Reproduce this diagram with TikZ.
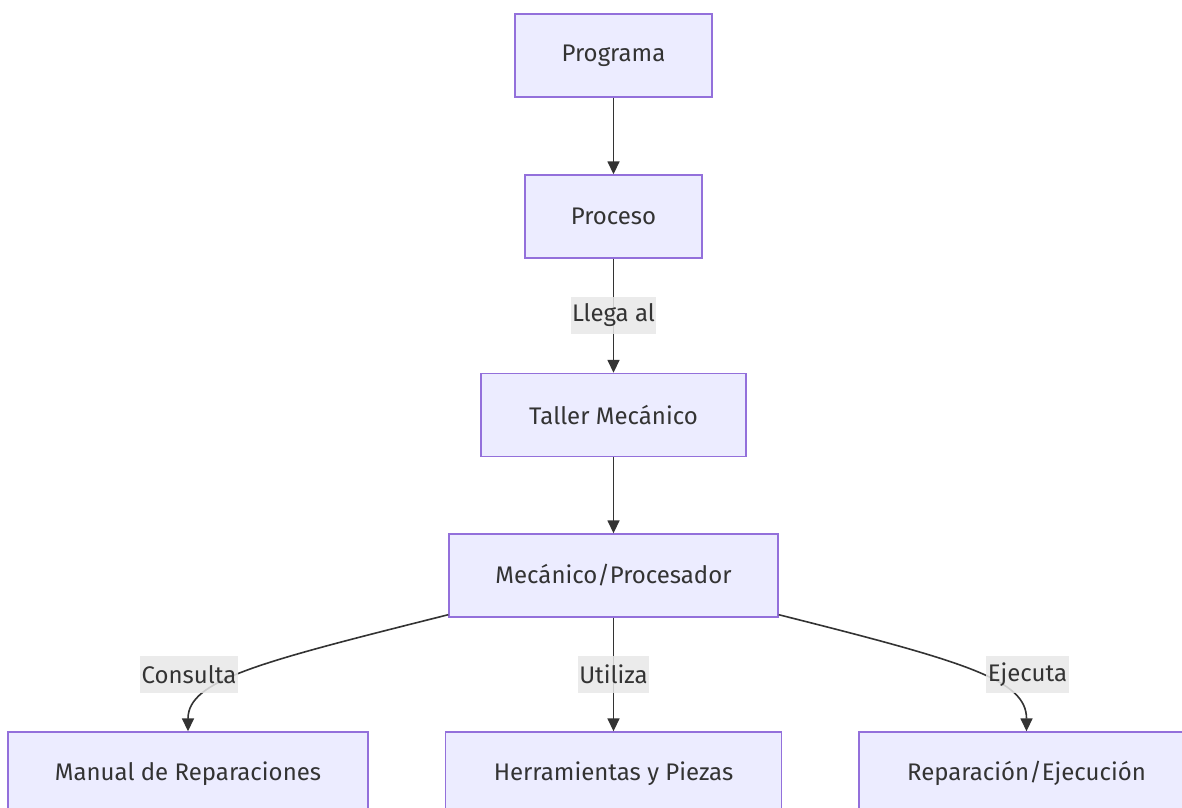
\documentclass[tikz,border=0pt]{standalone}
\usepackage{fontspec}
\setmainfont{Fira Sans}
\usetikzlibrary{arrows.meta}
\definecolor{boxfill}{HTML}{ECECFF}
\definecolor{boxline}{HTML}{9370DB}
\definecolor{ink}{HTML}{333333}
\definecolor{labelbg}{HTML}{E8E8E8}
\begin{document}
\begin{tikzpicture}[x=1pt,y=-1pt,
  font=\fontsize{24}{29}\selectfont,
  box/.style={draw=boxline,fill=boxfill,line width=1.4pt,text=ink,
    minimum height=83pt,inner sep=0pt},
  edge/.style={draw=ink,line width=1.6pt,
    -{Triangle[length=13pt,width=12pt]}},
  elabel/.style={fill=labelbg,fill opacity=0.85,text opacity=1,text=ink,
    inner xsep=1.5pt,inner ysep=0pt,minimum height=37pt}]
  \useasboundingbox (0,0) rectangle (1182,807);

  % nodes
  \node[box,minimum width=197pt] (prog) at (613.5,55.5) {Programa};
  \node[box,minimum width=177pt] (proc) at (613.5,216.5) {Proceso};
  \node[box,minimum width=265pt] (taller) at (613.5,415) {Taller Mecánico};
  \node[box,minimum width=329pt] (mec) at (613.5,575.5) {Mecánico/Procesador};
  \node[box,minimum width=360pt] (manual) at (188,773.5) {Manual de Reparaciones};
  \node[box,minimum width=336pt] (herr) at (613.5,773.5) {Herramientas y Piezas};
  \node[box,minimum width=335pt] (rep) at (1026.5,773.5) {Reparación/Ejecución};

  % straight connectors
  \draw[edge] (prog.south) -- (proc.north);
  \draw[edge] (proc.south) -- (taller.north);
  \draw[edge] (taller.south) -- (mec.north);
  \draw[edge] (mec.south) -- (herr.north);

  % curved connectors to the outer boxes
  \draw[edge] ([yshift=3pt]mec.south west)
    .. controls (260,662) and (188,680) .. (manual.north);
  \draw[edge] ([yshift=3pt]mec.south east)
    .. controls (967,662) and (1026.5,680) .. (rep.north);

  % connector labels
  \node[elabel] (l1) at (613.5,315.5) {Llega al};
  \node[elabel] (l2) at (189,674.5) {Consulta};
  \node[elabel] (l3) at (613.5,674.5) {Utiliza};
  \node[elabel] (l4) at (1027.5,674.5) {Ejecuta};
\end{tikzpicture}
\end{document}
